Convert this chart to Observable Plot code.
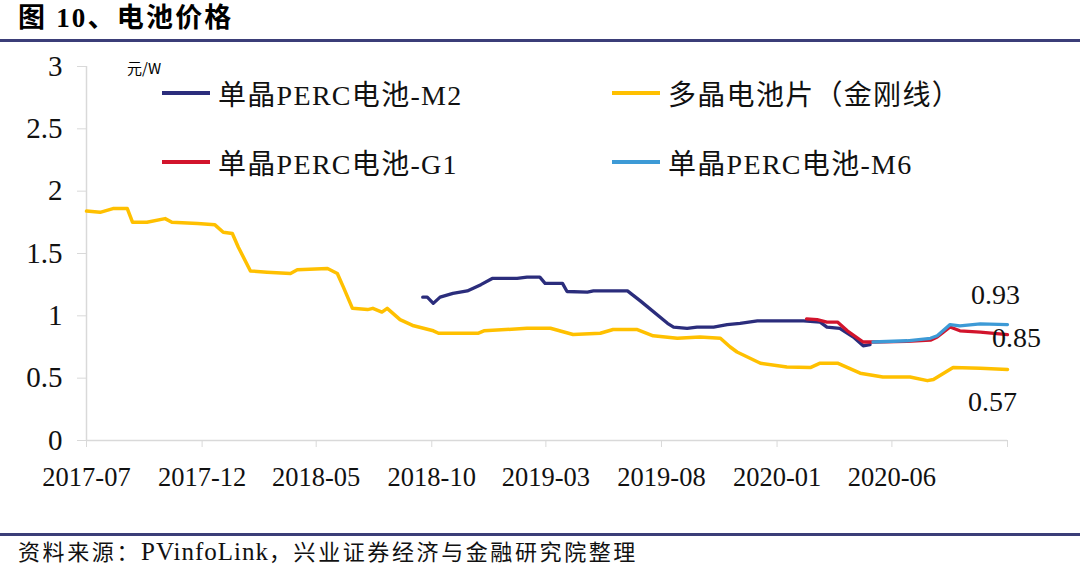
<!DOCTYPE html>
<html>
<head>
<meta charset="utf-8">
<script src="https://cdn.jsdelivr.net/npm/d3@7"></script>
<script src="https://cdn.jsdelivr.net/npm/@observablehq/plot@0.6"></script>
<style>
  html, body { margin: 0; padding: 0; background: #fff; }
  #root { position: relative; width: 1080px; height: 569px; overflow: hidden; background: #fff;
          font-family: 'Liberation Serif', 'Noto Sans CJK SC', serif; color: #000; }
  .title { height: 39px; line-height: 36px; padding-left: 18px; font-size: 27px; font-weight: bold; letter-spacing: 2.2px; }
  .rule { height: 3px; background: #3b3e78; }
  .caption { height: 33px; line-height: 32px; padding-left: 18px; font-size: 22px; letter-spacing: 2.6px; color: #111; }
  .caption .lat { font-size: 25px; letter-spacing: 1px; }
  .unit { position: absolute; left: 127px; top: 58px; font-family: 'Noto Sans CJK SC', sans-serif; font-size: 15px; line-height: 20px; }
  .leg { position: absolute; display: flex; align-items: center; height: 40px; font-size: 28px; letter-spacing: 1.3px; white-space: nowrap; color: #111; }
  .leg .sw { width: 48px; height: 3.5px; margin-right: 8px; }
  #chart svg { display: block; }
</style>
</head>
<body>
<div id="root">
  <div class="title">图 10、电池价格</div>
  <div class="rule"></div>
  <div id="chart"></div>
  <div class="rule"></div>
  <div class="caption">资料来源：<span class="lat">PVinfoLink</span>，兴业证券经济与金融研究院整理</div>
  <div class="unit">元/W</div>
  <div id="legend"></div>
</div>
<script>
// ---- Data ----
const seriesNames = ["单晶PERC电池-M2", "多晶电池片（金刚线）", "单晶PERC电池-G1", "单晶PERC电池-M6"];
const seriesColors = ["#2b2d7c", "#ffc000", "#d2142c", "#3d9ad6"];

const polyDates = ["2017-07-01","2017-07-19","2017-08-05","2017-08-24","2017-08-31","2017-09-19","2017-10-13","2017-10-22","2017-11-25","2017-12-18","2017-12-29","2018-01-10","2018-01-18","2018-02-03","2018-02-25","2018-03-28","2018-04-06","2018-05-16","2018-05-29","2018-06-06","2018-06-18","2018-07-08","2018-07-15","2018-07-27","2018-08-03","2018-08-20","2018-09-07","2018-10-03","2018-10-10","2018-12-01","2018-12-09","2019-02-04","2019-03-07","2019-04-06","2019-05-12","2019-05-29","2019-06-30","2019-07-21","2019-08-22","2019-09-21","2019-10-18","2019-10-31","2019-11-09","2019-12-10","2020-01-14","2020-02-14","2020-02-27","2020-03-21","2020-04-20","2020-05-20","2020-06-25","2020-07-18","2020-07-26","2020-08-21","2020-09-26","2020-11-01"];
const polyValues = [1.84,1.83,1.86,1.86,1.75,1.75,1.78,1.75,1.74,1.73,1.67,1.66,1.55,1.36,1.35,1.34,1.37,1.38,1.34,1.23,1.06,1.05,1.06,1.03,1.06,0.97,0.92,0.88,0.86,0.86,0.88,0.90,0.90,0.85,0.86,0.89,0.89,0.84,0.82,0.83,0.82,0.75,0.71,0.62,0.59,0.585,0.62,0.62,0.54,0.51,0.51,0.48,0.49,0.585,0.58,0.57];

const m2Dates = ["2018-09-19","2018-09-25","2018-10-03","2018-10-12","2018-10-29","2018-11-17","2018-12-05","2018-12-20","2019-01-22","2019-02-04","2019-02-21","2019-02-28","2019-03-23","2019-03-29","2019-04-25","2019-05-03","2019-06-17","2019-07-04","2019-08-09","2019-08-17","2019-09-04","2019-09-17","2019-10-09","2019-10-27","2019-11-13","2019-12-06","2020-02-05","2020-02-27","2020-03-07","2020-03-24","2020-04-11","2020-04-24","2020-05-03"];
const m2Values = [1.15,1.15,1.10,1.15,1.18,1.20,1.25,1.30,1.30,1.31,1.31,1.26,1.26,1.195,1.19,1.20,1.20,1.12,0.94,0.91,0.90,0.91,0.91,0.93,0.94,0.96,0.96,0.95,0.91,0.90,0.83,0.76,0.77];

const g1Dates = ["2020-02-09","2020-02-23","2020-03-07","2020-03-21","2020-04-03","2020-04-24","2020-05-06","2020-06-21","2020-07-22","2020-07-31","2020-08-17","2020-08-30","2020-09-26","2020-11-01"];
const g1Values = [0.976,0.97,0.95,0.95,0.88,0.79,0.79,0.795,0.805,0.83,0.91,0.88,0.87,0.85];

const m6Dates = ["2020-05-07","2020-06-21","2020-07-22","2020-07-31","2020-08-17","2020-08-30","2020-09-26","2020-11-01"];
const m6Values = [0.79,0.80,0.82,0.84,0.93,0.92,0.935,0.93];

const yTicks = [0, 0.5, 1, 1.5, 2, 2.5, 3];
const xTickMonths = ["2017-07","2017-12","2018-05","2018-10","2019-03","2019-08","2020-01","2020-06","2020-11"];
const xTickLabels = ["2017-07","2017-12","2018-05","2018-10","2019-03","2019-08","2020-01","2020-06",""];
const endLabels = ["0.93", "0.85", "0.57"];
const endLabelValues = [0.93, 0.85, 0.57];

// ---- Build ----
const parse = d3.utcParse("%Y-%m-%d");
const rows = (dates, vals) => dates.map((d, i) => ({date: parse(d), value: vals[i]}));
const poly = rows(polyDates, polyValues);
const m2 = rows(m2Dates, m2Values);
const g1 = rows(g1Dates, g1Values);
const m6 = rows(m6Dates, m6Values);
const xTicks = xTickMonths.map(m => parse(m + "-01"));
const labelOf = new Map(xTicks.map((t, i) => [+t, xTickLabels[i]]));
const xStart = xTicks[0], xEnd = xTicks[xTicks.length - 1];

const chart = Plot.plot({
  width: 1080,
  height: 491,
  marginLeft: 86,
  marginRight: 73,
  marginTop: 24,
  marginBottom: 93,
  x: {type: "utc", domain: [xStart, xEnd], label: null},
  y: {domain: [0, 3], label: null},
  style: {fontFamily: "'Liberation Serif', 'Noto Sans CJK SC', serif", background: "white", color: "black", overflow: "visible"},
  marks: [
    Plot.ruleX([xStart], {y1: 0, y2: 3, stroke: "#d9d9d9", strokeWidth: 1.5}),
    Plot.ruleY([0], {stroke: "#d9d9d9", strokeWidth: 1.5}),
    Plot.axisY({ticks: yTicks, tickSize: 9, tickPadding: 15, fontSize: 29, stroke: "#d9d9d9", fill: "#111", label: null, tickFormat: d => String(d)}),
    Plot.axisX({ticks: xTicks, tickSize: 7, tickPadding: 20, fontSize: 26.5, stroke: "#d9d9d9", fill: "#111", label: null, tickFormat: d => labelOf.get(+d) ?? ""}),
    Plot.line(poly, {x: "date", y: "value", stroke: seriesColors[1], strokeWidth: 3.5}),
    Plot.line(m2, {x: "date", y: "value", stroke: seriesColors[0], strokeWidth: 3.3}),
    Plot.line(g1, {x: "date", y: "value", stroke: seriesColors[2], strokeWidth: 3.3}),
    Plot.line(m6, {x: "date", y: "value", stroke: seriesColors[3], strokeWidth: 3.3}),
    Plot.text([{date: m6[m6.length-1].date, value: endLabelValues[0], t: endLabels[0]}], {x: "date", y: "value", text: "t", dx: -12, dy: -30, fontSize: 28, fill: "#111"}),
    Plot.text([{date: g1[g1.length-1].date, value: endLabelValues[1], t: endLabels[1]}], {x: "date", y: "value", text: "t", dx: 9, dy: 3, fontSize: 28, fill: "#111"}),
    Plot.text([{date: poly[poly.length-1].date, value: endLabelValues[2], t: endLabels[2]}], {x: "date", y: "value", text: "t", dx: -15, dy: 33, fontSize: 28, fill: "#111"})
  ]
});
document.getElementById("chart").appendChild(chart);

// legend (inside plot area, 2 columns x 2 rows)
const legendOrder = [0, 1, 2, 3];
const legendPos = [[162, 73], [612, 73], [162, 142], [612, 142]];
const legend = document.getElementById("legend");
legendOrder.forEach((si, k) => {
  const item = document.createElement("div");
  item.className = "leg";
  item.style.left = legendPos[k][0] + "px";
  item.style.top = legendPos[k][1] + "px";
  const sw = document.createElement("div");
  sw.className = "sw";
  sw.style.background = seriesColors[si];
  const tx = document.createElement("span");
  tx.textContent = seriesNames[si];
  item.appendChild(sw);
  item.appendChild(tx);
  legend.appendChild(item);
});
</script>
</body>
</html>
